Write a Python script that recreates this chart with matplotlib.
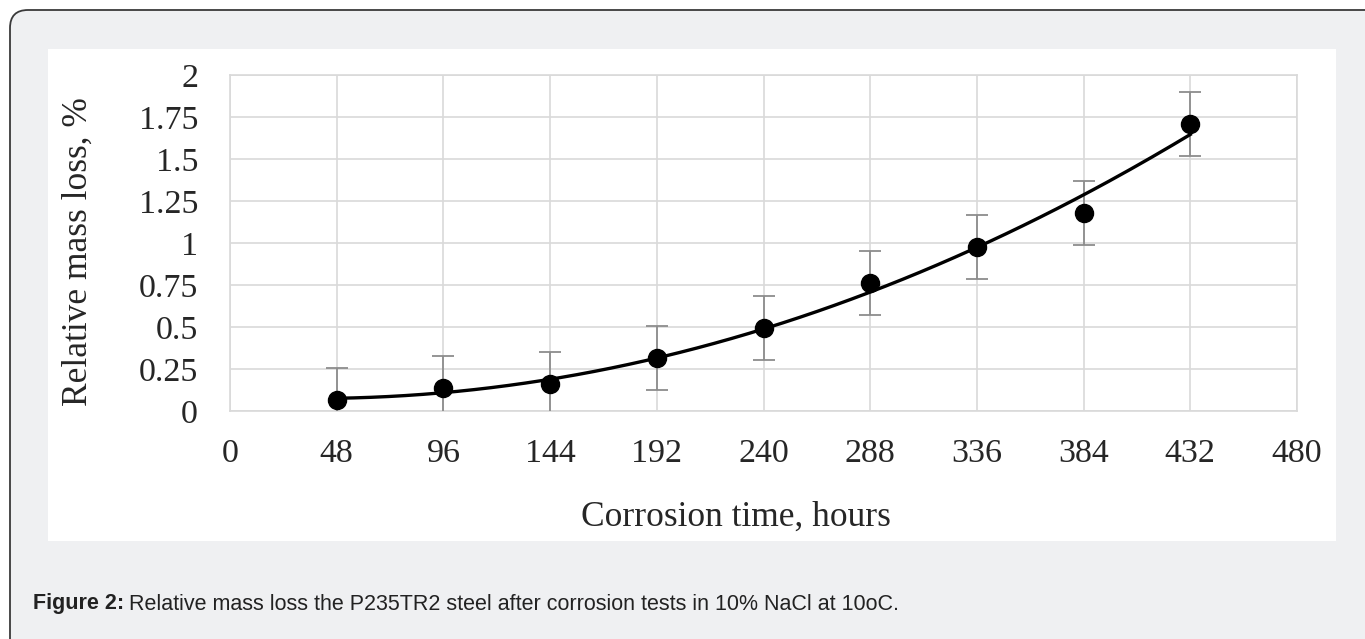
import numpy as np
import matplotlib
matplotlib.use("Agg")
import matplotlib.pyplot as plt
from matplotlib.patches import FancyBboxPatch, Rectangle
from matplotlib.transforms import IdentityTransform

# data
hours = [48, 96, 144, 192, 240, 288, 336, 384, 432]
mass_loss = [0.065, 0.135, 0.16, 0.315, 0.493, 0.764, 0.974, 1.18, 1.706]
mass_err = [0.19, 0.19, 0.19, 0.19, 0.19, 0.19, 0.19, 0.19, 0.19]
x_ticks = [0, 48, 96, 144, 192, 240, 288, 336, 384, 432, 480]
y_ticks = [0, 0.25, 0.5, 0.75, 1, 1.25, 1.5, 1.75, 2]
y_tick_labels = ["0", "0.25", "0.5", "0.75", "1", "1.25", "1.5", "1.75", "2"]

W, H = 1365, 639
fig = plt.figure(figsize=(W / 100, H / 100), dpi=100)
fig.patch.set_facecolor("white")

# rounded grey frame (pixel coords), runs off the right and bottom edges
frame = FancyBboxPatch((10, -40), W + 40, H + 40 - 10,
                       boxstyle="round,pad=0,rounding_size=18",
                       transform=IdentityTransform(), facecolor="#eff0f2",
                       edgecolor="#3a3a3a", linewidth=1.3, zorder=0)
fig.patches.append(frame)

# white chart panel
panel = Rectangle((48 / W, (H - 541) / H), (1336 - 48) / W, (541 - 49) / H,
                  transform=fig.transFigure, facecolor="white",
                  edgecolor="none", zorder=1)
fig.patches.append(panel)

ax = fig.add_axes([230 / W, (H - 411) / H, (1297 - 230) / W, (411 - 75) / H])
ax.set_facecolor("white")
ax.set_zorder(2)

serif = "Liberation Serif"
grid_c = "#d9d9d9"
txt_c = "#262626"

ax.set_xlim(0, 480)
ax.set_ylim(0, 2)
ax.set_xticks(x_ticks)
ax.set_yticks(y_ticks)
ax.set_yticklabels(y_tick_labels)
ax.grid(True, color=grid_c, linewidth=1.2)
ax.set_axisbelow(True)
for s in ax.spines.values():
    s.set_color(grid_c)
    s.set_linewidth(1.2)
ax.tick_params(length=0, labelsize=24.5, labelcolor=txt_c)
ax.tick_params(axis="y", pad=23)
ax.tick_params(axis="x", pad=20)
for lab in ax.get_xticklabels() + ax.get_yticklabels():
    lab.set_fontfamily(serif)

# error bars
ax.errorbar(hours, mass_loss, yerr=mass_err, fmt="none", ecolor="#8c8c8c",
            elinewidth=1.3, capsize=8, capthick=1.3, zorder=3)

# polynomial trend line (order 2)
coef = np.polyfit(hours, mass_loss, 2)
xs = np.linspace(hours[0], hours[-1], 200)
ax.plot(xs, np.polyval(coef, xs), color="black", linewidth=2.4, zorder=4)

ax.plot(hours, mass_loss, "o", color="black", markersize=13, zorder=5)

fig.text(78 / W, 1 - 252 / H, "Relative mass loss, %", rotation=90,
         ha="center", va="center", fontsize=25.5, family=serif, color=txt_c)
fig.text(736 / W, 1 - 517 / H, "Corrosion time, hours",
         ha="center", va="center", fontsize=25.5, family=serif, color=txt_c)

# caption: bold label followed by regular text
cap_y = 1 - 604 / H
t_bold = fig.text(33 / W, cap_y, "Figure 2:", ha="left", va="center",
                  fontsize=15.5, fontweight="bold", family="Liberation Sans",
                  color="#222222")
fig.canvas.draw()
bb = t_bold.get_window_extent()
fig.text((bb.x1 + 5) / W, cap_y,
         "Relative mass loss the P235TR2 steel after corrosion tests in 10% NaCl at 10oC.",
         ha="left", va="center", fontsize=15.5, family="Liberation Sans",
         color="#222222")

fig.savefig("out.png", dpi=100, facecolor=fig.get_facecolor())
